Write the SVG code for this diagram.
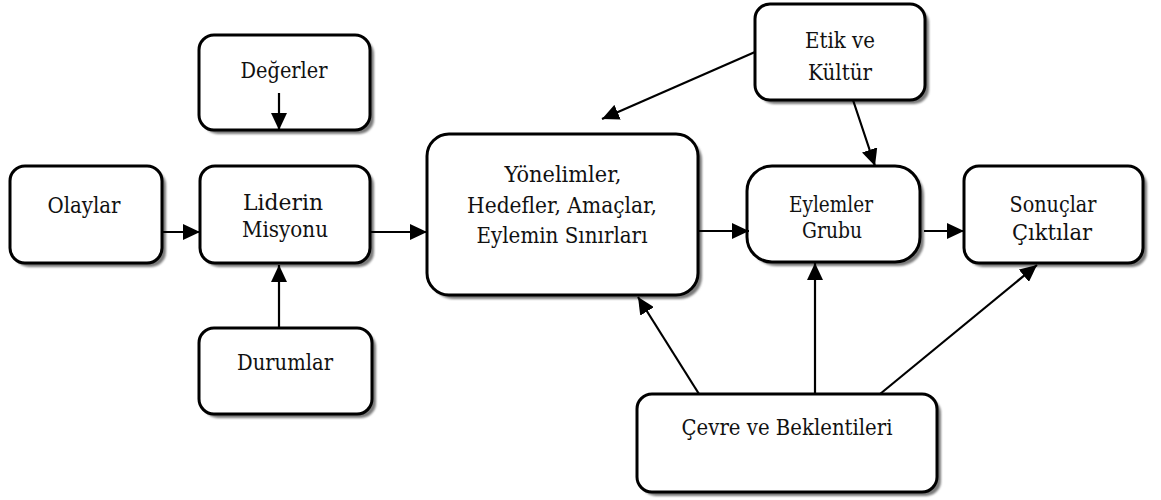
<svg xmlns="http://www.w3.org/2000/svg" width="1161" height="500" viewBox="0 0 1161 500">
<style>
.sh{fill:#7a7a7a;stroke:none;filter:url(#blur)}
.bx{fill:#fff;stroke:#000;stroke-width:3}
.t{font-family:'DejaVu Serif','Liberation Serif',serif;font-size:23px;fill:#111;text-anchor:middle}
.c{stroke:#000;stroke-width:2.2;fill:none;marker-end:url(#ah)}
</style>
<defs>
<filter id="blur" x="-5%" y="-5%" width="110%" height="110%"><feGaussianBlur stdDeviation="1"/></filter>
<marker id="ah" markerUnits="userSpaceOnUse" markerWidth="18" markerHeight="16" refX="17" refY="8" orient="auto" viewBox="0 0 18 16">
<path d="M0,0 L17,8 L0,16 z" fill="#000"/>
</marker>
</defs>
<rect width="1161" height="500" fill="#fff"/>
<g id="olaylar">
<rect class="sh" x="14" y="170" width="152" height="97" rx="15"/>
<rect class="bx" x="10" y="166" width="152" height="97" rx="15"/>
<text class="t" x="84" y="213" textLength="73" lengthAdjust="spacingAndGlyphs">Olaylar</text>
</g>
<g id="degerler">
<rect class="sh" x="203" y="39" width="171" height="95" rx="15"/>
<rect class="bx" x="199" y="35" width="171" height="95" rx="15"/>
<text class="t" x="284" y="78" textLength="87" lengthAdjust="spacingAndGlyphs">Değerler</text>
</g>
<g id="liderin">
<rect class="sh" x="204" y="170" width="170" height="97" rx="15"/>
<rect class="bx" x="200" y="166" width="170" height="97" rx="15"/>
<text class="t" x="283" y="210" textLength="80" lengthAdjust="spacingAndGlyphs">Liderin</text>
<text class="t" x="285" y="237" textLength="86" lengthAdjust="spacingAndGlyphs">Misyonu</text>
</g>
<g id="durumlar">
<rect class="sh" x="203" y="332" width="173" height="86" rx="15"/>
<rect class="bx" x="199" y="328" width="173" height="86" rx="15"/>
<text class="t" x="285" y="370" textLength="96" lengthAdjust="spacingAndGlyphs">Durumlar</text>
</g>
<g id="yonelimler">
<rect class="sh" x="431" y="138" width="271" height="161" rx="22"/>
<rect class="bx" x="427" y="134" width="271" height="161" rx="22"/>
<text class="t" x="563" y="182" textLength="117" lengthAdjust="spacingAndGlyphs">Yönelimler,</text>
<text class="t" x="562" y="213" textLength="190" lengthAdjust="spacingAndGlyphs">Hedefler, Amaçlar,</text>
<text class="t" x="562" y="243" textLength="171" lengthAdjust="spacingAndGlyphs">Eylemin Sınırları</text>
</g>
<g id="etik">
<rect class="sh" x="759" y="8" width="170" height="96" rx="15"/>
<rect class="bx" x="755" y="4" width="170" height="96" rx="15"/>
<text class="t" x="840" y="48" textLength="70" lengthAdjust="spacingAndGlyphs">Etik ve</text>
<text class="t" x="840" y="80" textLength="64" lengthAdjust="spacingAndGlyphs">Kültür</text>
</g>
<g id="eylemler">
<rect class="sh" x="751" y="170" width="173" height="96" rx="25"/>
<rect class="bx" x="747" y="166" width="173" height="96" rx="25"/>
<text class="t" x="831" y="212" textLength="84" lengthAdjust="spacingAndGlyphs">Eylemler</text>
<text class="t" x="832" y="238" textLength="60" lengthAdjust="spacingAndGlyphs">Grubu</text>
</g>
<g id="sonuclar">
<rect class="sh" x="968" y="170" width="179" height="97" rx="15"/>
<rect class="bx" x="964" y="166" width="179" height="97" rx="15"/>
<text class="t" x="1053" y="212" textLength="87" lengthAdjust="spacingAndGlyphs">Sonuçlar</text>
<text class="t" x="1052" y="240" textLength="80" lengthAdjust="spacingAndGlyphs">Çıktılar</text>
</g>
<g id="cevre">
<rect class="sh" x="641" y="398" width="300" height="98" rx="15"/>
<rect class="bx" x="637" y="394" width="300" height="98" rx="15"/>
<text class="t" x="787" y="435" textLength="211" lengthAdjust="spacingAndGlyphs">Çevre ve Beklentileri</text>
</g>
<g id="connectors">
<line class="c" x1="162" y1="232" x2="200" y2="232"/>
<line class="c" x1="370" y1="232" x2="427" y2="232"/>
<line class="c" x1="698" y1="231" x2="749" y2="231"/>
<line class="c" x1="924" y1="231" x2="964" y2="231"/>
<line class="c" x1="279" y1="93" x2="279" y2="130"/>
<line class="c" x1="279" y1="328" x2="279" y2="265"/>
<line class="c" x1="853" y1="100" x2="875" y2="166"/>
<line class="c" x1="755" y1="52" x2="602" y2="119"/>
<line class="c" x1="699" y1="394" x2="638" y2="297"/>
<line class="c" x1="815" y1="394" x2="815" y2="263"/>
<line class="c" x1="880" y1="394" x2="1037" y2="265"/>
</g>
</svg>
